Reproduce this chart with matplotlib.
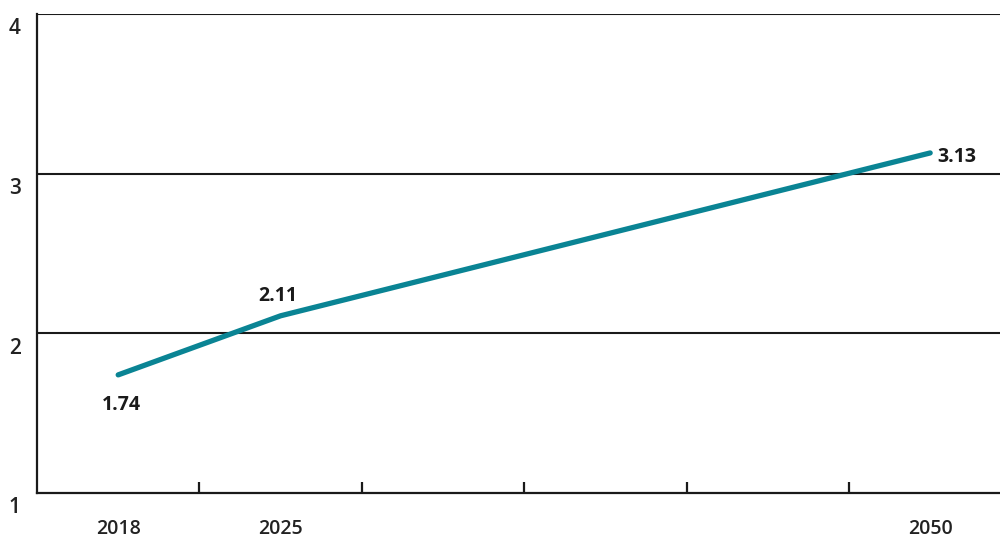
import matplotlib
matplotlib.use("Agg")
import matplotlib.pyplot as plt
from matplotlib.transforms import ScaledTranslation

years = ["2018", "2025", "", "", "", "2050"]
x_idx = [0, 1, 5]
values = [1.74, 2.11, 3.13]
labels = ["1.74", "2.11", "3.13"]
y_ticks = [1, 2, 3, 4]

plt.rcParams['font.family'] = ['Open Sans', 'DejaVu Sans']

fig = plt.figure(figsize=(10, 5.4), dpi=100)
ax = fig.add_axes([0.037, 0.087, 0.963, 0.887])

teal = "#0a8494"
ax.plot(x_idx, values, color=teal, lw=3.8, solid_capstyle='round', zorder=3)

ax.set_xlim(-0.5, 5.43)
ax.set_ylim(1, 4)

for y in y_ticks[1:]:
    ax.axhline(y, color="#1a1a1a", lw=1.5, zorder=1)

ax.spines["right"].set_visible(False)
ax.spines["top"].set_visible(False)
for s in ["left", "bottom"]:
    ax.spines[s].set_linewidth(1.6)
    ax.spines[s].set_color("#1a1a1a")

# boundary ticks
ax.set_xticks([0.5, 1.5, 2.5, 3.5, 4.5])
ax.tick_params(axis='x', which='major', direction='in', length=8, width=1.6,
               color="#1a1a1a", labelbottom=False)
ax.set_xticks(range(len(years)), minor=True)
ax.set_xticklabels(years, minor=True, fontsize=14, fontweight='semibold', color="#222222")
ax.tick_params(axis='x', which='minor', length=0, pad=19)

ax.set_yticks(y_ticks)
ax.set_yticklabels([str(v) for v in y_ticks], fontsize=15, fontweight='semibold',
                   color="#222222", va='top', ha='center')
ax.tick_params(axis='y', length=0, pad=16)
for lbl in ax.get_yticklabels():
    lbl.set_transform(lbl.get_transform() + ScaledTranslation(0, -3 / 72, fig.dpi_scale_trans))

offsets = [(2, -22), (-2, 14), (19, -3)]
for xi, v, lab, (dx, dy) in zip(x_idx, values, labels, offsets):
    ax.annotate(lab, (xi, v), xytext=(dx, dy), textcoords='offset points',
                ha='center', va='center', fontsize=14, fontweight='bold', color="#1a1a1a")

fig.savefig("out.png", dpi=100)
